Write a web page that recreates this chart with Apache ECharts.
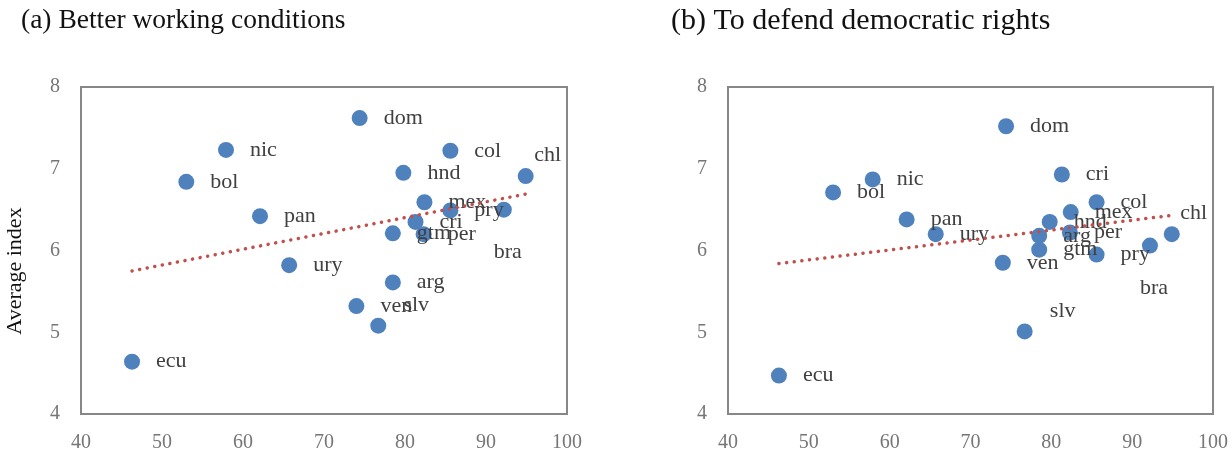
<!DOCTYPE html>
<html>
<head>
<meta charset="utf-8">
<script src="https://cdn.jsdelivr.net/npm/echarts@6/dist/echarts.min.js"></script>
<style>
  html, body { margin: 0; padding: 0; background: #fff; }
  #chart { width: 1231px; height: 456px; }
</style>
</head>
<body>
<div id="chart"></div>
<script>
// Country codes and their shared x value
const countries = ['arg', 'bol', 'bra', 'chl', 'col', 'cri', 'dom', 'ecu', 'gtm',
                   'hnd', 'mex', 'nic', 'pan', 'per', 'pry', 'slv', 'ury', 'ven'];
const xValues   = [78.5, 53.0, 92.2, 94.9, 85.6, 81.3, 74.4, 46.3, 78.5,
                   79.8, 82.4, 57.9, 62.1, 82.3, 85.6, 76.7, 65.7, 74.0];

// Average index, panel (a)
const workingConditions = [5.61, 6.84, 6.50, 6.91, 7.22, 6.35, 7.62, 4.64, 6.21,
                           6.95, 6.59, 7.23, 6.42, 6.20, 6.49, 5.08, 5.82, 5.32];
// Average index, panel (b)
const democraticRights  = [6.18, 6.71, 6.06, 6.20, 6.59, 6.93, 7.52, 4.47, 6.01,
                           6.35, 6.47, 6.87, 6.38, 6.22, 5.95, 5.01, 6.20, 5.85];

// Linear trend end points for each panel
const trendA = [[46.3, 5.75], [94.9, 6.69]];
const trendB = [[46.3, 5.84], [94.9, 6.43]];

const panelTitles = ['(a) Better working conditions', '(b) To defend democratic rights'];
const yAxisTitle = 'Average index';

// Labels that sit away from their point (offset in px from the point centre)
const movedLabels = {
  slv: [38, -20],
  chl: [22, -21],
  bra: [4, 43]
};

const SERIF = '"Liberation Serif", "DejaVu Serif", serif';
const BLUE = '#4F81BD';
const RED = '#C0504D';

function points(ys) {
  return countries.map((c, i) => {
    const item = { name: c, value: [xValues[i], ys[i]] };
    if (movedLabels[c]) {
      item.label = { position: 'inside', offset: movedLabels[c], align: 'center' };
    }
    return item;
  });
}

const grids = [
  { left: 81, top: 87, width: 486, height: 327 },
  { left: 728, top: 87, width: 486, height: 327 }
];

function xAxis(i) {
  return {
    gridIndex: i, type: 'value', min: 40, max: 100, interval: 10,
    axisLine: { show: false }, axisTick: { show: false }, splitLine: { show: false },
    axisLabel: { color: '#767676', fontFamily: SERIF, fontSize: 20, margin: 19 }
  };
}
function yAxis(i) {
  return {
    gridIndex: i, type: 'value', min: 4, max: 8, interval: 1,
    axisLine: { show: false }, axisTick: { show: false }, splitLine: { show: false },
    axisLabel: { color: '#767676', fontFamily: SERIF, fontSize: 20, margin: 21 }
  };
}

function scatter(i, ys) {
  return {
    type: 'scatter', xAxisIndex: i, yAxisIndex: i,
    symbolSize: 16, itemStyle: { color: BLUE, opacity: 1 },
    data: points(ys),
    label: {
      show: true, position: 'right', distance: 16,
      formatter: p => p.name,
      color: '#404040', fontFamily: SERIF, fontSize: 22
    },
    emphasis: { disabled: true },
    z: 2
  };
}

function trend(i, pts) {
  return {
    type: 'line', xAxisIndex: i, yAxisIndex: i, data: pts,
    symbol: 'none', silent: true,
    lineStyle: { color: RED, width: 3.5, type: [0.1, 7.6], cap: 'round' },
    z: 3
  };
}

const chart = echarts.init(document.getElementById('chart'), null, { renderer: 'canvas' });
chart.setOption({
  animation: false,
  backgroundColor: '#fff',
  grid: grids.map(g => Object.assign({ show: true, borderColor: '#878787', borderWidth: 2, backgroundColor: 'transparent' }, g)),
  xAxis: [xAxis(0), xAxis(1)],
  yAxis: [yAxis(0), yAxis(1)],
  series: [
    scatter(0, workingConditions), trend(0, trendA),
    scatter(1, democraticRights), trend(1, trendB)
  ],
  graphic: [
    { type: 'text', left: 21, top: 7, style: { text: panelTitles[0], font: '27.5px ' + SERIF, fill: '#111' } },
    { type: 'text', left: 671, top: 6, style: { text: panelTitles[1], font: '30px ' + SERIF, fill: '#111' } },
    { type: 'text', x: 15, y: 271, rotation: Math.PI / 2,
      style: { text: yAxisTitle, font: '22px ' + SERIF, fill: '#111', align: 'center', verticalAlign: 'middle' } }
  ]
});
</script>
</body>
</html>
